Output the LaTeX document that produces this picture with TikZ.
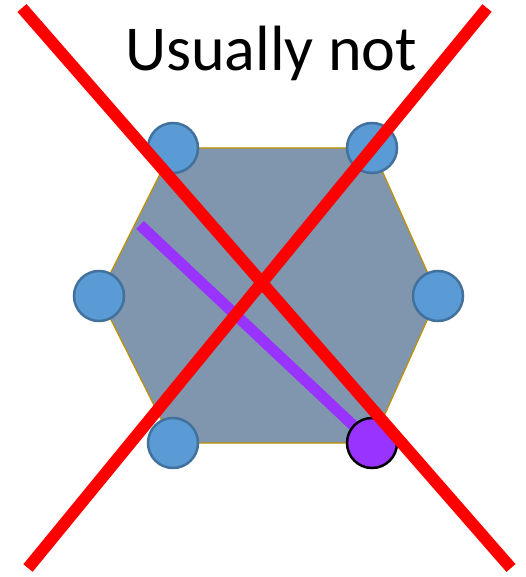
\documentclass[tikz,border=0pt]{standalone}
\usepackage{fontspec}
\setmainfont{Carlito}
\definecolor{hexfill}{RGB}{127,150,174}
\definecolor{hexline}{RGB}{191,144,0}
\definecolor{dotfill}{RGB}{91,155,213}
\definecolor{dotline}{RGB}{65,113,156}
\definecolor{purp}{RGB}{153,51,255}
\begin{document}
\begin{tikzpicture}[x=1pt,y=-1pt,
  dot/.style={circle,draw=dotline,fill=dotfill,line width=2.5pt,minimum size=50pt,inner sep=0pt},
  pdot/.style={circle,draw=black,fill=purp,line width=2.5pt,minimum size=50pt,inner sep=0pt},
  cross/.style={draw=red,line width=12pt,line cap=butt},
  pline/.style={draw=purp,line width=11pt,line cap=butt}]
\useasboundingbox (0,0) rectangle (525,577);
\coordinate (v1) at (173,148);
\coordinate (v2) at (372,148);
\coordinate (v3) at (438,296);
\coordinate (v4) at (372,443);
\coordinate (v5) at (173,443);
\coordinate (v6) at (99,296);
\fill[hexfill] (v1)--(v2)--(v3)--(v4)--(v5)--(v6)--cycle;
\draw[hexline,line width=1.2pt] (v1)--(v2)--(v3)--(v4)--(v5)--(v6)--cycle;
\coordinate (ps) at (140,225);
\draw[pline] (ps) -- (v4);
\node[dot] (c1) at (v1) {};
\node[dot] (c2) at (v2) {};
\node[dot] (c3) at (v3) {};
\node[pdot] (c4) at (v4) {};
\node[dot] (c5) at (v5) {};
\node[dot] (c6) at (v6) {};
\coordinate (a1) at (22,8);
\coordinate (a2) at (511,568);
\coordinate (b1) at (487,8);
\coordinate (b2) at (28,568);
\draw[cross] (a1) -- (a2);
\draw[cross] (b1) -- (b2);
\node[font=\fontsize{64}{70}\selectfont,anchor=base,inner sep=0pt] (title) at (271,71) {Usually not};
\end{tikzpicture}
\end{document}
